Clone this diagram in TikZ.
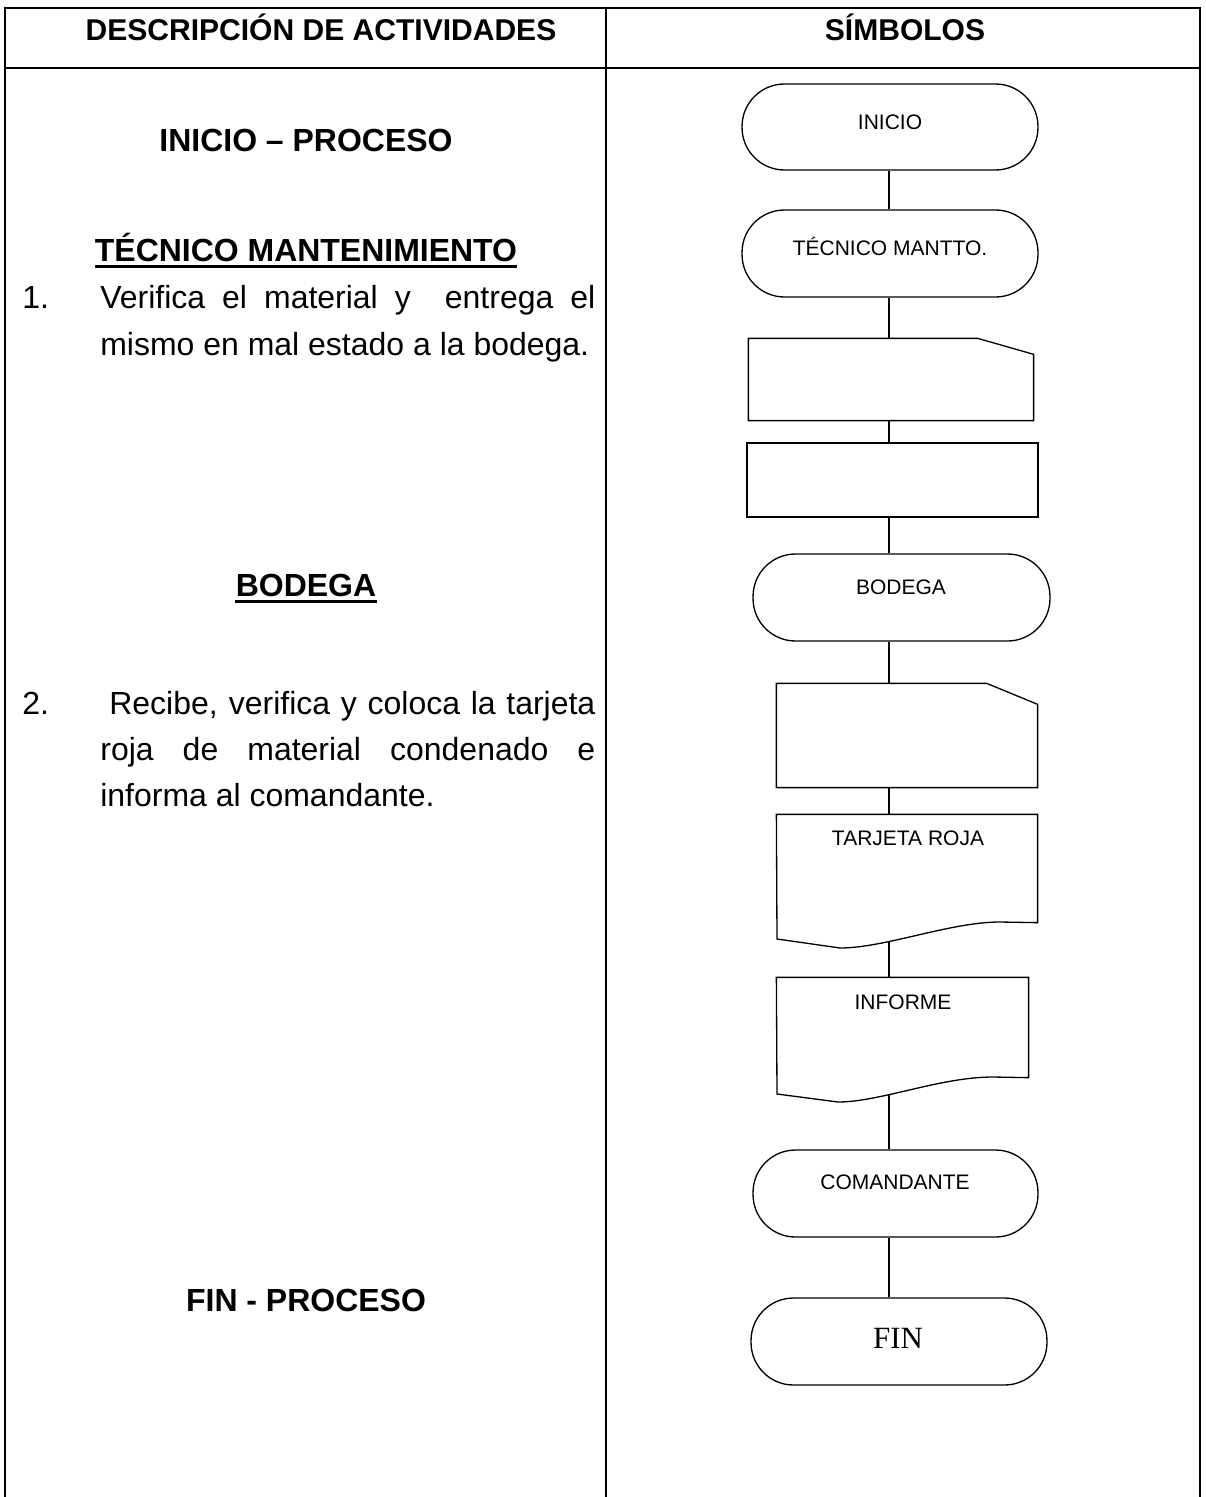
\documentclass[tikz,border=0pt]{standalone}
\usepackage{fontspec}
\setmainfont{Liberation Sans}
\newfontfamily\serifF{Liberation Serif}
\newcommand{\bodyF}{\fontsize{18.2pt}{22pt}\selectfont}
\newcommand{\headF}{\fontsize{17.1pt}{21pt}\selectfont\bfseries}
\newcommand{\boxF}{\fontsize{11.95pt}{14pt}\selectfont}
\newcommand{\finF}{\serifF\fontsize{17.6pt}{21pt}\selectfont}
\newcommand{\pxw}[1]{\dimexpr0.02cm*#1\relax}
\begin{document}
\begin{tikzpicture}[x=0.02cm,y=-0.02cm,
  txt/.style={inner sep=0pt, anchor=base},
  ltxt/.style={inner sep=0pt, anchor=base west},
  grid/.style={line width=1.1pt},
  term/.style={draw, line width=0.75pt, rounded corners=0.85cm, inner sep=0pt},
  shp/.style={inner sep=0pt, line width=0.75pt},
  conn/.style={line width=0.7pt},
  ul/.style={line width=0.055cm}]
\useasboundingbox (0,0) rectangle (1205,1497);
% table
\draw[grid] (5,1497) -- (5,8) -- (1200,8) -- (1200,1497);
\draw[grid] (5,68) -- (1200,68);
\draw[grid] (606,8) -- (606,1497);
% headers
\node[txt] (h1) at (321,41) {\headF DESCRIPCIÓN DE ACTIVIDADES};
\node[txt] (h2) at (905,41) {\headF SÍMBOLOS};
% left column
\node[txt] (lIni) at (306,151.5) {\bodyF\bfseries INICIO – PROCESO};
\node[txt] (lTec) at (306,261.5) {\bodyF\bfseries TÉCNICO MANTENIMIENTO};
\draw[ul] ([yshift=-0.1cm]lTec.base west) -- ([yshift=-0.1cm]lTec.base east);
\node[ltxt] (n1) at (22,308) {\bodyF 1.};
\node[ltxt] (l1a) at (100,308) {\bodyF\makebox[\pxw{495}][s]{Verifica el material y\space\space entrega el}};
\node[ltxt] (l1b) at (100,355) {\bodyF mismo en mal estado a la bodega.};
\node[txt] (lBod) at (306,596.5) {\bodyF\bfseries BODEGA};
\draw[ul] ([yshift=-0.1cm]lBod.base west) -- ([yshift=-0.1cm]lBod.base east);
\node[ltxt] (n2) at (22,714) {\bodyF 2.};
\node[ltxt] (l2a) at (109,714) {\bodyF\makebox[\pxw{486}][s]{Recibe, verifica y coloca la tarjeta}};
\node[ltxt] (l2b) at (100,760) {\bodyF\makebox[\pxw{495}][s]{roja de material condenado e}};
\node[ltxt] (l2c) at (100,806) {\bodyF informa al comandante.};
\node[txt] (lFin) at (306,1311.5) {\bodyF\bfseries FIN - PROCESO};
% flowchart shapes
\node[term, minimum width=5.92cm, minimum height=1.72cm] (ini) at (890,127) {};
\node[term, minimum width=5.92cm, minimum height=1.74cm] (tec) at (890,253.5) {};
\node[shp, minimum width=5.68cm, minimum height=1.62cm] (mi1) at (891,379.5) {};
\node[shp, draw, minimum width=5.82cm, minimum height=1.48cm] (pr1) at (892.5,480) {};
\node[term, minimum width=5.94cm, minimum height=1.74cm] (bod) at (901.5,597.5) {};
\node[shp, minimum width=5.2cm, minimum height=2.06cm] (mi2) at (907,735.5) {};
\node[shp, minimum width=5.2cm, minimum height=2.14cm] (doc1) at (907,868.5) {};
\node[shp, minimum width=5.02cm, minimum height=1.98cm] (doc2) at (902.5,1027.5) {};
\node[term, minimum width=5.7cm, minimum height=1.74cm] (com) at (895.5,1193.5) {};
\node[term, minimum width=5.92cm, minimum height=1.74cm] (fin) at (899,1341.5) {};
% connectors
\coordinate (ax) at (889,0);
\foreach \a/\b in {ini/tec, tec/mi1, mi1/pr1, pr1/bod, bod/mi2, mi2/doc1, doc1/doc2, doc2/com, com/fin}
  \draw[conn] (\a.south -| ax) -- (\b.north -| ax);
% manual inputs
\draw[shp, fill=white] (mi1.south west) -- (mi1.north west) -- ([xshift=-1.12cm]mi1.north east)
  -- ([yshift=-0.32cm]mi1.north east) -- (mi1.south east) -- cycle;
\draw[shp, fill=white] (mi2.south west) -- (mi2.north west) -- ([xshift=-1.02cm]mi2.north east)
  -- ([yshift=-0.42cm]mi2.north east) -- (mi2.south east) -- cycle;
% documents
\draw[shp, fill=white] (doc1.south east) -- (doc1.north east) -- (doc1.north west) -- (777,939)
  -- (840,948) .. controls (885,948) and (950,922) .. (1000,922) -- cycle;
\draw[shp, fill=white] (doc2.south east) -- (doc2.north east) -- (doc2.north west) -- (777,1094)
  -- (838,1102) .. controls (880,1102) and (940,1077) .. (993,1077) -- cycle;
% shape labels
\node[txt] (tIni) at (890,129.5) {\boxF INICIO};
\node[txt] (tTec) at (890,255.5) {\boxF TÉCNICO MANTTO.};
\node[txt] (tBod) at (901,594.5) {\boxF BODEGA};
\node[txt] (tTar) at (908,845.5) {\boxF TARJETA ROJA};
\node[txt] (tInf) at (903,1009.5) {\boxF INFORME};
\node[txt] (tCom) at (895,1189.5) {\boxF COMANDANTE};
\node[txt] (tFin) at (898,1348) {\finF FIN};
\end{tikzpicture}
\end{document}
